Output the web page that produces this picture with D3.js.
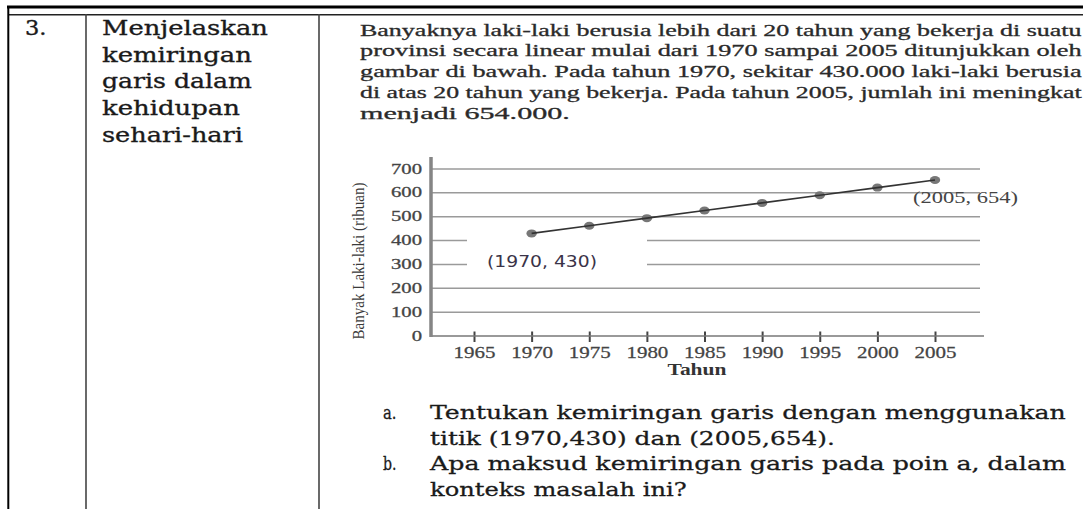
<!DOCTYPE html>
<html>
<head>
<meta charset="utf-8">
<script src="https://cdn.jsdelivr.net/npm/d3@7"></script>
<style>
  html, body { margin: 0; padding: 0; background: #fff; }
  svg { display: block; }
</style>
</head>
<body>
<svg id="chart" width="1083" height="509"></svg>
<script>
// ---- data ----
const years = [1970, 1975, 1980, 1985, 1990, 1995, 2000, 2005];
const values = [430, 462, 494, 526, 558, 590, 622, 654];
const xTicks = [1965, 1970, 1975, 1980, 1985, 1990, 1995, 2000, 2005];
const yTicks = [0, 100, 200, 300, 400, 500, 600, 700];
const yTitle = "Banyak Laki-laki (ribuan)";
const xTitle = "Tahun";
const labelStart = "(1970, 430)";
const labelEnd = "(2005, 654)";
const colNumber = "3.";
const colTopic = ["Menjelaskan", "kemiringan", "garis dalam", "kehidupan", "sehari-hari"];
const paragraph = [
  "Banyaknya laki-laki berusia lebih dari 20 tahun yang bekerja di suatu",
  "provinsi secara linear mulai dari 1970 sampai 2005 ditunjukkan oleh",
  "gambar di bawah. Pada tahun 1970, sekitar 430.000 laki-laki berusia",
  "di atas 20 tahun yang bekerja. Pada tahun 2005, jumlah ini meningkat",
  "menjadi 654.000."
];
const questions = [
  ["a.", "Tentukan kemiringan garis dengan menggunakan"],
  ["", "titik (1970,430) dan (2005,654)."],
  ["b.", "Apa maksud kemiringan garis pada poin a, dalam"],
  ["", "konteks masalah ini?"]
];

const svg = d3.select("#chart");
const SERIF = "'Liberation Serif', 'Times New Roman', serif";
const CAMB = "'DejaVu Serif', serif";
const SANS = "'DejaVu Sans', Verdana, sans-serif";

// text helper: stretch horizontally to reach a target width
function put(g, str, o) {
  const t = g.append("text")
    .text(str)
    .attr("font-family", o.family || SERIF)
    .attr("font-size", o.size || 16)
    .attr("font-weight", o.weight || "normal")
    .attr("fill", o.fill || "#333")
    .attr("text-anchor", o.anchor || "start");
  if (o.stroke) t.attr("stroke", o.fill || "#333").attr("stroke-width", o.stroke);
  const nat = t.node().getComputedTextLength() || 1;
  const sx = o.w ? o.w / nat : (o.sx || 1);
  const rot = o.rotate ? ` rotate(${o.rotate})` : "";
  t.attr("transform", `translate(${o.x},${o.y})${rot} scale(${sx},1)`);
  return t;
}

// ---- table frame ----
const frame = svg.append("g");
frame.append("line").attr("x1", 7).attr("x2", 1083).attr("y1", 7).attr("y2", 7)
  .attr("stroke", "#000").attr("stroke-width", 3);
frame.append("line").attr("x1", 8).attr("x2", 1083).attr("y1", 14.7).attr("y2", 14.7)
  .attr("stroke", "#222").attr("stroke-width", 1.4);
frame.append("line").attr("x1", 8.3).attr("x2", 8.3).attr("y1", 6).attr("y2", 509)
  .attr("stroke", "#000").attr("stroke-width", 2);
frame.append("line").attr("x1", 86).attr("x2", 86).attr("y1", 14).attr("y2", 509)
  .attr("stroke", "#444").attr("stroke-width", 1.6);
frame.append("line").attr("x1", 319).attr("x2", 319).attr("y1", 14).attr("y2", 509)
  .attr("stroke", "#444").attr("stroke-width", 1.6);

// ---- left columns ----
put(svg, colNumber, {x: 25, y: 35, family: CAMB, size: 20, fill: "#1a1a1a", w: 21.5, stroke: 0.35});
const topicW = [166, 150, 150, 138, 141];
colTopic.forEach((s, i) => {
  put(svg, s, {x: 102, y: 35 + i * 26.7, family: CAMB, size: 20, fill: "#1a1a1a", w: topicW[i], stroke: 0.35});
});

// ---- paragraph ----
const paraEnd = [1082, 1082, 1082, 1082, 570];
paragraph.forEach((s, i) => {
  put(svg, s, {x: 360, y: 35.5 + i * 20.9, family: SERIF, size: 17, fill: "#2a2a2a", w: paraEnd[i] - 360, stroke: 0.3});
});

// ---- chart ----
const x = d3.scaleLinear().domain([1965, 2005]).range([474, 935]);
const y = d3.scaleLinear().domain([0, 700]).range([336, 169]);
const axisX = 431, gridEnd = 980, xAxisEnd = 984, yAxisTop = 157;

const chart = svg.append("g");

// gridlines
chart.append("g").selectAll("line").data(yTicks.filter(d => d > 0)).join("line")
  .attr("x1", axisX).attr("x2", gridEnd)
  .attr("y1", d => y(d)).attr("y2", d => y(d))
  .attr("stroke", "#9a9a9a").attr("stroke-width", 1.5);

// white box behind start label
chart.append("rect").attr("x", 467).attr("y", 237).attr("width", 180).attr("height", 38)
  .attr("fill", "#fff");

// x axis
const gx = chart.append("g").attr("transform", `translate(0,${y(0)})`)
  .call(d3.axisBottom(x).tickValues(xTicks).tickFormat(d3.format("d")).tickSizeOuter(0));
gx.select(".domain").remove();
gx.append("line").attr("x1", axisX).attr("x2", xAxisEnd).attr("y1", 0).attr("y2", 0)
  .attr("stroke", "#777").attr("stroke-width", 1.6);
gx.selectAll(".tick line").attr("y1", -4.5).attr("y2", 6).attr("stroke", "#444").attr("stroke-width", 2);
gx.selectAll(".tick text").each(function(d) {
  const g = d3.select(this.parentNode);
  d3.select(this).remove();
  put(g, String(d), {x: 0, y: 22, family: SERIF, size: 16, fill: "#444", anchor: "middle", w: 42, stroke: 0.25});
});

// y axis
const gy = chart.append("g").attr("transform", `translate(${axisX},0)`)
  .call(d3.axisLeft(y).tickValues(yTicks).tickSize(0).tickPadding(9));
gy.select(".domain").remove();
gy.append("line").attr("x1", 0).attr("x2", 0).attr("y1", yAxisTop).attr("y2", y(0) + 1)
  .attr("stroke", "#858585").attr("stroke-width", 3.5);
gy.selectAll(".tick text").each(function(d) {
  const g = d3.select(this.parentNode);
  d3.select(this).remove();
  put(g, String(d), {x: -9, y: 4, family: SERIF, size: 15, fill: "#444", anchor: "end", sx: 1.38, stroke: 0.3});
});

// axis titles
put(chart, yTitle, {x: 364, y: 261, rotate: -90, family: SERIF, size: 17, fill: "#3a3a3a", anchor: "middle", w: 157});
put(chart, xTitle, {x: 697, y: 375, family: SERIF, size: 17, weight: "bold", fill: "#333", anchor: "middle", w: 59});

// points and line
chart.append("g").selectAll("ellipse").data(years).join("ellipse")
  .attr("cx", d => x(d)).attr("cy", (d, i) => y(values[i]))
  .attr("rx", 5.2).attr("ry", 4).attr("fill", "#777");
const line = d3.line().x(d => x(d[0])).y(d => y(d[1]));
chart.append("path").datum(years.map((d, i) => [d, values[i]]))
  .attr("d", line).attr("fill", "none").attr("stroke", "#333").attr("stroke-width", 1.7);

// point labels
put(chart, labelStart, {x: 487, y: 266.5, family: SANS, size: 15, fill: "#3a3348", w: 110});
put(chart, labelEnd, {x: 913, y: 203, family: SERIF, size: 16, fill: "#444", w: 105});

// ---- questions ----
const qEnd = [1066, 835, 1066, 687];
questions.forEach((q, i) => {
  const yy = 419 + i * 25.5;
  if (q[0]) put(svg, q[0], {x: 383, y: yy, family: CAMB, size: 19, fill: "#1a1a1a", w: 13.5, stroke: 0.3});
  put(svg, q[1], {x: 430, y: yy, family: CAMB, size: 19, fill: "#1a1a1a", w: qEnd[i] - 430, stroke: 0.3});
});
</script>
</body>
</html>
